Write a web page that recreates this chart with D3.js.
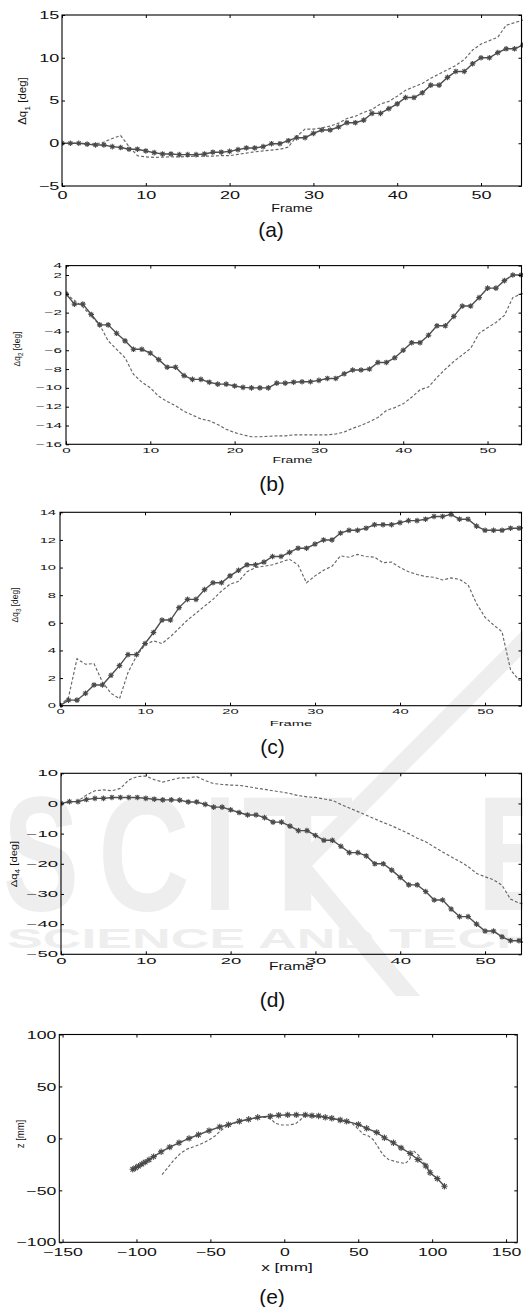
<!DOCTYPE html>
<html>
<head>
<meta charset="utf-8">
<script src="https://cdn.jsdelivr.net/npm/d3@7"></script>
<style>
  html, body { margin: 0; padding: 0; background: #fff; }
  svg { display: block; }
  text { font-family: "Liberation Sans", Arial, Helvetica, sans-serif; fill: #111; }
</style>
</head>
<body>
<svg id="fig" width="523" height="1307"></svg>
<script>
// ---- joint-angle errors per frame (0..55) ----
const frames = d3.range(56);

const q1Estimated = [0,0,0,-0.1,-0.2,-0.2,-0.4,-0.5,-0.7,-0.7,-0.9,-1.1,-1.25,-1.25,-1.33,-1.33,-1.33,-1.25,-1.05,-1.05,-0.95,-0.75,-0.55,-0.55,-0.4,-0.05,-0.05,0.3,0.65,0.65,1.15,1.55,1.55,1.9,2.4,2.4,2.7,3.5,3.5,4.05,4.6,5.35,5.35,5.9,6.8,6.8,7.7,8.4,8.4,9.3,10.0,10.0,10.6,11.05,11.05,11.5];
const q1Reference = [0,0,0,-0.05,-0.1,0.15,0.55,0.9,-0.4,-1.45,-1.6,-1.65,-1.62,-1.58,-1.6,-1.55,-1.5,-1.5,-1.5,-1.45,-1.45,-1.3,-1.15,-1.0,-0.9,-0.8,-0.7,-0.45,0.8,1.65,1.65,1.8,2.0,2.35,2.9,3.15,3.6,3.95,4.6,4.9,5.5,6.2,6.6,7.0,7.6,8.1,8.6,9.1,9.8,10.9,11.6,12.0,12.4,13.8,14.1,14.4];

const q2Estimated = [0,-1.1,-1.1,-2.2,-3.3,-3.3,-4.2,-5.0,-5.9,-5.9,-6.3,-7.0,-7.8,-7.8,-8.7,-9.1,-9.1,-9.4,-9.6,-9.6,-9.8,-9.95,-10.0,-10.0,-10.0,-9.5,-9.5,-9.4,-9.35,-9.35,-9.2,-9.0,-9.0,-8.5,-8.1,-8.1,-8.0,-7.3,-7.3,-6.8,-6.0,-5.2,-5.2,-4.4,-3.4,-3.4,-2.4,-1.3,-1.3,-0.4,0.6,0.6,1.4,2.0,2.0,2.3];
const q2Reference = [0,-0.7,-1.4,-2.4,-3.3,-5.0,-5.9,-6.8,-8.55,-9.4,-10.0,-10.9,-11.45,-11.9,-12.5,-12.9,-13.3,-13.5,-13.9,-14.4,-14.75,-15.0,-15.2,-15.2,-15.15,-15.1,-15.1,-15.0,-15.0,-15.0,-15.0,-15.0,-14.9,-14.7,-14.3,-14.0,-13.6,-13.15,-12.4,-12.1,-11.7,-11.0,-10.2,-9.9,-8.9,-8.0,-7.2,-6.5,-5.8,-4.2,-3.6,-3.05,-2.3,-0.4,0.0,0.1];

const q3Estimated = [0,0.4,0.4,0.9,1.5,1.5,2.2,2.9,3.7,3.7,4.5,5.3,6.2,6.2,7.1,7.7,7.7,8.4,8.9,8.9,9.4,9.8,10.2,10.2,10.4,10.8,10.8,11.1,11.4,11.4,11.7,12.0,12.0,12.5,12.7,12.7,12.85,13.1,13.1,13.1,13.25,13.4,13.4,13.5,13.7,13.7,13.85,13.5,13.5,13.0,12.7,12.7,12.7,12.85,12.85,12.9];
const q3Reference = [0,0.6,3.4,3.0,3.05,1.7,0.9,0.5,2.4,3.6,4.4,4.7,4.5,5.0,5.6,6.2,6.7,7.2,7.7,8.3,8.8,9.0,9.7,10.0,10.1,10.2,10.4,10.6,10.2,8.9,9.4,9.8,10.1,10.85,10.75,10.95,10.8,10.75,10.35,10.4,10.0,9.7,9.5,9.35,9.3,9.1,9.25,9.15,8.75,7.4,6.4,5.85,5.35,2.6,1.85,1.9];

const q4Estimated = [0,0.6,0.6,1.3,1.7,1.7,2.0,2.0,2.0,2.0,1.7,1.4,1.2,1.2,1.1,0.5,0.5,-0.3,-1.2,-1.2,-2.1,-3.0,-3.8,-3.8,-4.7,-6.2,-6.2,-7.5,-9.0,-9.0,-10.6,-12.2,-12.2,-14.2,-16.3,-16.3,-17.4,-20.0,-20.0,-22.1,-24.5,-27.0,-27.0,-29.2,-32.0,-32.0,-35.0,-37.5,-37.5,-40.0,-42.3,-42.3,-44.2,-45.5,-45.5,-46.5];
const q4Reference = [0,0.5,0.8,2.8,4.2,4.5,4.2,5.0,7.8,8.9,9.1,7.9,7.1,7.8,8.5,8.5,8.9,7.6,6.6,6.3,6.1,6.0,5.6,5.1,4.7,4.2,3.8,3.3,2.6,2.2,2.0,1.5,1.0,-0.3,-1.5,-2.7,-3.9,-5.1,-6.3,-7.4,-8.7,-10.0,-11.5,-12.7,-14.4,-16.1,-17.7,-19.2,-20.9,-23.2,-24.3,-25.3,-27.1,-31.7,-33.0,-33.6];

// ---- end-effector path in the x-z plane [mm] ----
const pathEstX = [-102.5,-100.6,-98.6,-96.4,-94.1,-91.5,-88.4,-83.3,-77.5,-71.2,-64.4,-58.1,-50.9,-43.7,-37.8,-30.4,-24.1,-18,-9.5,-3.8,2.3,8.1,14.2,18.7,23.2,27.7,32.1,37.8,42.2,50.1,55.7,62.5,67.7,73.8,79,85.1,90.3,95.7,98.6,103.5,108.3];
const pathEstZ = [-29.7,-28.3,-26.7,-24.7,-22.8,-20.6,-17.5,-12.9,-8.4,-4.2,0,3.5,7.4,11,13.2,16.5,18.4,20.3,21.3,22.3,22.6,22.6,22.6,21.9,21.6,20.3,19.4,17.7,16.4,13.5,9.7,5.8,0.6,-4.2,-9.1,-14.5,-20.3,-26.5,-33,-38.7,-46.1];
const pathRefX = [-82.7,-79.3,-74.8,-70.3,-65.8,-60.1,-54.5,-50,-46.6,-43.2,-38.7,-34.2,-30.4,-24.1,-18,-11.7,-8.3,-6.1,-1.6,2.9,7.4,10.8,13.1,15.3,20,27.7,33.3,38,43,46,50,53.5,57,60,62.6,65,67.1,70.5,76.1,81.8,84.7,87.4,90.7,94,97,99];
const pathRefZ = [-34.8,-29,-21,-14.5,-10.3,-7.4,-4.2,-0.6,2.6,7.4,11.9,14.5,16.2,18.2,20,20.3,17.7,14.5,12.9,12.9,13.9,17.7,21,21.9,21.2,20,18.7,17.4,15.6,14.2,9,4,2.3,-1,-6.5,-12,-16.1,-20.3,-22.6,-24.2,-20.3,-11.9,-16.1,-22.6,-28,-31];

// ---- tick values ----
const frameTicks = [0, 10, 20, 30, 40, 50];
const q1Ticks = [-5, 0, 5, 10, 15];
const q2Ticks = [-16, -14, -12, -10, -8, -6, -4, -2, 0, 2, 4];
const q3Ticks = [0, 2, 4, 6, 8, 10, 12, 14];
const q4Ticks = [-50, -40, -30, -20, -10, 0, 10];
const xMmTicks = [-150, -100, -50, 0, 50, 100, 150];
const zMmTicks = [-100, -50, 0, 50, 100];

const svg = d3.select("#fig");
svg.append("rect").attr("width", 523).attr("height", 1307).attr("fill", "#fff");

// faint publisher mark behind the plots
const wmColor = "#eeeeee";
const wm = svg.append("g");
wm.append("polygon")
  .attr("points", "523,630 523,654 312,866 288,866")
  .attr("fill", wmColor);
wm.append("polygon")
  .attr("points", "288,866 312,866 420,996 396,996")
  .attr("fill", wmColor);
[["S", 3, 76], ["C", 98, 92], ["I", 203, 34], ["T", 242, 112], ["E", 477, 82]]
  .forEach(([ch, x0, w]) => {
    wm.append("text").attr("x", x0).attr("y", 910)
      .attr("font-size", 163).attr("font-weight", "bold")
      .attr("textLength", w).attr("lengthAdjust", "spacingAndGlyphs")
      .style("fill", wmColor).text(ch);
  });
wm.append("text").attr("x", 7).attr("y", 948)
  .attr("font-size", 28).attr("font-weight", "bold")
  .attr("textLength", 760).attr("lengthAdjust", "spacingAndGlyphs")
  .style("fill", wmColor).text("SCIENCE AND TECHNOLOGY");

const starPath = (r) => {
  const c = r * 0.7071;
  return `M${-r},0H${r}M0,${-r}V${r}M${-c},${-c}L${c},${c}M${-c},${c}L${c},${-c}`;
};

let clipId = 0;

function stretchedText(g, x, y, str, size, sx, anchor) {
  return g.append("text")
    .attr("transform", `translate(${x},${y}) scale(${sx},1)`)
    .attr("font-size", size)
    .attr("text-anchor", anchor || "middle")
    .text(str);
}

function yLabel(g, cx, cy, size, sLen, sThick, main, sub, rest) {
  const t = g.append("text")
    .attr("transform", `translate(${cx},${cy}) rotate(-90) scale(${sLen},${sThick})`)
    .attr("font-size", size)
    .attr("text-anchor", "middle");
  t.append("tspan").text(main);
  if (sub) {
    t.append("tspan").attr("font-size", size * 0.75).attr("dy", size * 0.35).text(sub);
    t.append("tspan").attr("dy", -size * 0.35).text(rest);
  } else {
    t.append("tspan").text(rest);
  }
}

function drawPanel(p) {
  const g = svg.append("g");
  const x = d3.scaleLinear().domain(p.xDomain).range([p.left, p.right]);
  const y = d3.scaleLinear().domain(p.yDomain).range([p.bottom, p.top]).clamp(!!p.clamp);
  const id = "clip" + (clipId++);
  g.append("clipPath").attr("id", id).append("rect")
    .attr("x", p.left).attr("y", p.top - 2)
    .attr("width", p.right - p.left + 2).attr("height", p.bottom - p.top + 4);

  const plot = g.append("g").attr("clip-path", `url(#${id})`);
  const line = d3.line().x(d => x(d[0])).y(d => y(d[1]));

  // dashed reference curve
  plot.append("path")
    .datum(p.refX.map((v, i) => [v, p.refY[i]]))
    .attr("d", line).attr("fill", "none")
    .attr("stroke", "#666").attr("stroke-width", 1.15)
    .attr("stroke-dasharray", "3,2");

  // solid estimated curve with asterisk markers
  const est = p.estX.map((v, i) => [v, p.estY[i]]);
  plot.append("path").datum(est).attr("d", line).attr("fill", "none")
    .attr("stroke", "#505050").attr("stroke-width", 1.4);
  plot.selectAll("path.mk").data(est).enter().append("path")
    .attr("class", "mk")
    .attr("transform", d => `translate(${x(d[0])},${y(d[1])})`)
    .attr("d", starPath(p.markR || 2.8))
    .attr("stroke", "#4a4a4a").attr("stroke-width", 1.1).attr("fill", "none");

  // axes with inward ticks on all four sides
  const tk = 3;
  const styleAxis = (ax) => {
    ax.select(".domain").remove();
    ax.selectAll(".tick line").attr("stroke", "#000").attr("stroke-width", 1);
  };
  const axB = g.append("g").attr("transform", `translate(0,${p.bottom})`)
    .call(d3.axisBottom(x).tickValues(p.xTicks).tickSizeInner(-tk).tickSizeOuter(0).tickPadding(p.xPad));
  const axL = g.append("g").attr("transform", `translate(${p.left},0)`)
    .call(d3.axisLeft(y).tickValues(p.yTicks).tickSizeInner(-tk).tickSizeOuter(0));
  const axT = g.append("g").attr("transform", `translate(0,${p.top})`)
    .call(d3.axisTop(x).tickValues(p.xTicks).tickSizeInner(-tk).tickSizeOuter(0).tickFormat(""));
  const axR = g.append("g").attr("transform", `translate(${p.right},0)`)
    .call(d3.axisRight(y).tickValues(p.yTicks).tickSizeInner(-tk).tickSizeOuter(0).tickFormat(""));
  [axB, axL, axT, axR].forEach(styleAxis);
  [axB, axL].forEach(ax => ax.attr("font-size", p.tickFont)
    .attr("font-family", '"Liberation Sans", Arial, sans-serif'));
  axB.selectAll(".tick text").attr("fill", "#111")
    .attr("transform", `scale(${p.tickSx},1)`);
  axL.selectAll(".tick text").attr("fill", "#111")
    .attr("x", -p.yGap / p.tickSx)
    .attr("transform", `scale(${p.tickSx},1)`);

  // frame
  g.append("rect").attr("x", p.left).attr("y", p.top)
    .attr("width", p.right - p.left).attr("height", p.bottom - p.top)
    .attr("fill", "none").attr("stroke", "#000").attr("stroke-width", 1.1);

  // labels
  stretchedText(g, p.xLabelX, p.xLabelY, p.xLabel, p.xLabelFont, p.xLabelSx);
  yLabel(g, p.yLabelX, p.yLabelY, p.yLabelFont, p.yLabelLen, p.yLabelThick,
         p.yMain, p.ySub, p.yRest);
  g.append("text").attr("x", p.capX).attr("y", p.capY)
    .attr("text-anchor", "middle")
    .attr("font-family", '"Liberation Serif", "Times New Roman", serif')
    .attr("font-size", 21).text(p.caption);
}

const panels = [
  { estX: frames, estY: q1Estimated, refX: frames, refY: q1Reference,
    xDomain: [0, 54.83], yDomain: [-5, 15], xTicks: frameTicks, yTicks: q1Ticks,
    left: 62, right: 521.5, top: 15, bottom: 186,
    tickFont: 10.6, tickSx: 1.7, yGap: 2.8, xPad: 5.5,
    xLabel: "Frame", xLabelX: 292, xLabelY: 211.7, xLabelFont: 10.7, xLabelSx: 1.34,
    yMain: "\u0394q", ySub: "1", yRest: " [deg]", yLabelX: 26, yLabelY: 101,
    yLabelFont: 10, yLabelLen: 1.15, yLabelThick: 1.0,
    caption: "(a)", capX: 271, capY: 236.5 },
  { estX: frames, estY: q2Estimated, refX: frames, refY: q2Reference,
    xDomain: [0, 54.03], yDomain: [-16, 3], clamp: true, xTicks: frameTicks, yTicks: q2Ticks,
    left: 66, right: 521.5, top: 265.6, bottom: 444.3,
    tickFont: 6.6, tickSx: 2.3, yGap: 4, xPad: 3.7,
    xLabel: "Frame", xLabelX: 292.5, xLabelY: 463.3, xLabelFont: 8.4, xLabelSx: 1.65,
    yMain: "\u0394q", ySub: "2", yRest: " [deg]", yLabelX: 20, yLabelY: 349,
    yLabelFont: 7, yLabelLen: 1.2, yLabelThick: 1.3,
    caption: "(b)", capX: 272, capY: 490.7 },
  { estX: frames, estY: q3Estimated, refX: frames, refY: q3Reference,
    xDomain: [0, 54.29], yDomain: [0, 14], xTicks: frameTicks, yTicks: q3Ticks,
    left: 60, right: 521.5, top: 512.3, bottom: 705.7,
    tickFont: 7, tickSx: 2.1, yGap: 4, xPad: 3.6,
    xLabel: "Frame", xLabelX: 291, xLabelY: 725.7, xLabelFont: 8, xLabelSx: 1.85,
    yMain: "\u0394q", ySub: "3", yRest: " [deg]", yLabelX: 18, yLabelY: 605,
    yLabelFont: 7, yLabelLen: 1.2, yLabelThick: 1.3,
    caption: "(c)", capX: 272.5, capY: 754.3 },
  { estX: frames, estY: q4Estimated, refX: frames, refY: q4Reference,
    xDomain: [0, 54.3], yDomain: [-50, 10], xTicks: frameTicks, yTicks: q4Ticks,
    left: 61, right: 521.5, top: 773.3, bottom: 954.3,
    tickFont: 8.4, tickSx: 2.2, yGap: 3, xPad: 4,
    xLabel: "Frame", xLabelX: 291.3, xLabelY: 970, xLabelFont: 10, xLabelSx: 1.55,
    yMain: "\u0394q", ySub: "4", yRest: " [deg]", yLabelX: 17, yLabelY: 864,
    yLabelFont: 8, yLabelLen: 1.4, yLabelThick: 1.2,
    caption: "(d)", capX: 272.5, capY: 1006.7 },
  { estX: pathEstX, estY: pathEstZ, refX: pathRefX, refY: pathRefZ,
    xDomain: [-152.2, 157.6], yDomain: [-100, 100], xTicks: xMmTicks, yTicks: zMmTicks,
    left: 59.3, right: 517.3, top: 1034.5, bottom: 1242.3,
    tickFont: 11.4, tickSx: 1.55, yGap: 3, xPad: 6,
    xLabel: "x [mm]", xLabelX: 287, xLabelY: 1270.7, xLabelFont: 11.5, xLabelSx: 1.5,
    yMain: "z [mm]", ySub: null, yRest: "", yLabelX: 24, yLabelY: 1134,
    yLabelFont: 10, yLabelLen: 0.95, yLabelThick: 1.1,
    caption: "(e)", capX: 272, capY: 1304, markR: 3.2 }
];

panels.forEach(drawPanel);
</script>
</body>
</html>
